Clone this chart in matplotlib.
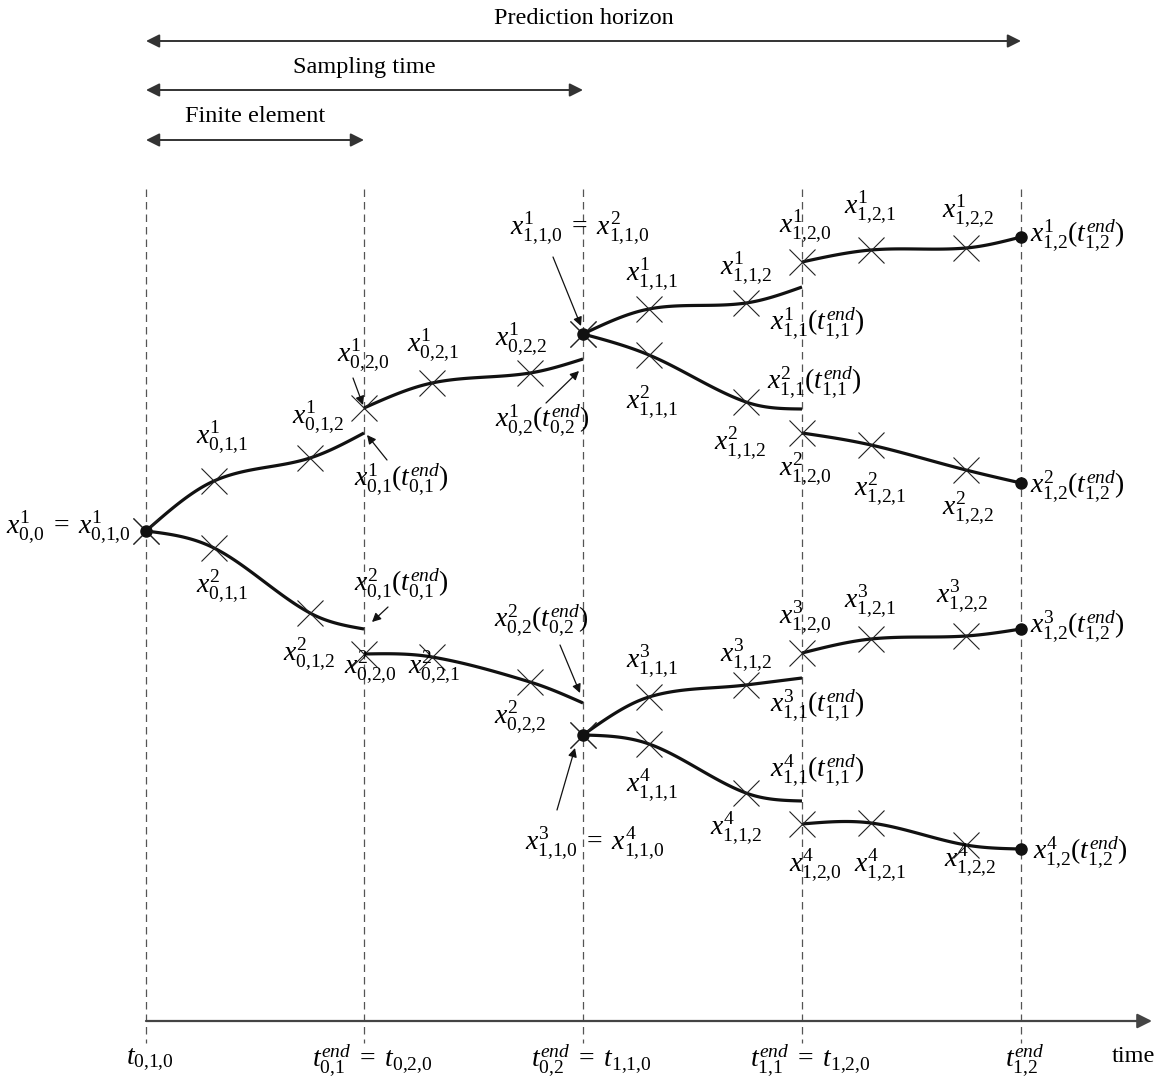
import numpy as np
import matplotlib
matplotlib.use("Agg")
import matplotlib.pyplot as plt

plt.rcParams["font.family"] = ["Liberation Serif", "DejaVu Serif"]
plt.rcParams["mathtext.fontset"] = "custom"
plt.rcParams["mathtext.rm"] = "Liberation Serif"
plt.rcParams["mathtext.it"] = "Liberation Serif:italic"
plt.rcParams["mathtext.bf"] = "Liberation Serif:bold"

# time grid: stage / finite element boundaries
t_bounds = [146, 364, 583, 802, 1021]
# collocation points inside each finite element (start, c1, c2, end)
t_elem = [
    [146, 214, 310, 364],
    [364, 432, 530, 583],
    [583, 649, 746, 802],
    [802, 871, 966, 1021],
]

# state trajectories, one list per scenario and finite element
x_s0_e1 = {1: [531, 481, 458, 433], 2: [531, 548, 613, 629]}
x_s0_e2 = {1: [408, 383, 373, 359], 2: [654, 657, 682, 703]}
x_s1_e1 = {1: [334, 309, 303, 287], 2: [334, 355, 402, 409],
           3: [735, 697, 685, 678], 4: [735, 744, 793, 801]}
x_s1_e2 = {1: [262, 250, 248, 237], 2: [433, 445, 470, 483],
           3: [653, 639, 636, 629], 4: [824, 823, 845, 849]}


def sub(*idx):
    return "{,}".join(str(i) for i in idx)


def node(j, *idx):
    return r"x^{%d}_{%s}" % (j, sub(*idx))


def endval(j, a, b):
    return r"x^{%d}_{%s}(t^{end}_{%s})" % (j, sub(a, b), sub(a, b))


EQ = r"\;=\;"

# node labels: (text, x, y, ha)
labels = [
    ("$" + node(1, 0, 0) + EQ + node(1, 0, 1, 0) + "$", 131, 527, "right"),
    ("$" + node(1, 0, 1, 1) + "$", 222, 437, "center"),
    ("$" + node(1, 0, 1, 2) + "$", 318, 417, "center"),
    ("$" + endval(1, 0, 1) + "$", 401, 479, "center"),
    ("$" + node(1, 0, 2, 0) + "$", 363, 355, "center"),
    ("$" + node(1, 0, 2, 1) + "$", 433, 345, "center"),
    ("$" + node(1, 0, 2, 2) + "$", 521, 339, "center"),
    ("$" + endval(1, 0, 2) + "$", 542, 420, "center"),
    ("$" + node(1, 1, 1, 0) + EQ + node(2, 1, 1, 0) + "$", 580, 228, "center"),
    ("$" + node(1, 1, 1, 1) + "$", 652, 274, "center"),
    ("$" + node(1, 1, 1, 2) + "$", 746, 268, "center"),
    ("$" + node(1, 1, 2, 0) + "$", 805, 226, "center"),
    ("$" + endval(1, 1, 1) + "$", 817, 323, "center"),
    ("$" + endval(2, 1, 1) + "$", 814, 382, "center"),
    ("$" + node(2, 1, 1, 1) + "$", 652, 402, "center"),
    ("$" + node(2, 1, 1, 2) + "$", 740, 443, "center"),
    ("$" + node(2, 1, 2, 0) + "$", 805, 469, "center"),
    ("$" + node(1, 1, 2, 1) + "$", 870, 207, "center"),
    ("$" + node(1, 1, 2, 2) + "$", 968, 211, "center"),
    ("$" + endval(1, 1, 2) + "$", 1030, 235, "left"),
    ("$" + endval(2, 1, 2) + "$", 1030, 486, "left"),
    ("$" + node(2, 1, 2, 1) + "$", 880, 489, "center"),
    ("$" + node(2, 1, 2, 2) + "$", 968, 508, "center"),
    ("$" + node(2, 0, 1, 1) + "$", 222, 586, "center"),
    ("$" + endval(2, 0, 1) + "$", 401, 584, "center"),
    ("$" + node(2, 0, 1, 2) + "$", 309, 654, "center"),
    ("$" + node(2, 0, 2, 0) + "$", 370, 667, "center"),
    ("$" + node(2, 0, 2, 1) + "$", 434, 667, "center"),
    ("$" + endval(2, 0, 2) + "$", 541, 620, "center"),
    ("$" + node(2, 0, 2, 2) + "$", 520, 717, "center"),
    ("$" + node(3, 1, 1, 0) + EQ + node(4, 1, 1, 0) + "$", 595, 843, "center"),
    ("$" + node(3, 1, 1, 1) + "$", 652, 661, "center"),
    ("$" + node(3, 1, 1, 2) + "$", 746, 655, "center"),
    ("$" + node(3, 1, 2, 0) + "$", 805, 617, "center"),
    ("$" + endval(3, 1, 1) + "$", 817, 705, "center"),
    ("$" + endval(4, 1, 1) + "$", 817, 770, "center"),
    ("$" + node(4, 1, 1, 1) + "$", 652, 785, "center"),
    ("$" + node(4, 1, 1, 2) + "$", 736, 828, "center"),
    ("$" + node(4, 1, 2, 0) + "$", 815, 865, "center"),
    ("$" + node(3, 1, 2, 1) + "$", 870, 601, "center"),
    ("$" + node(3, 1, 2, 2) + "$", 962, 596, "center"),
    ("$" + endval(3, 1, 2) + "$", 1030, 626, "left"),
    ("$" + endval(4, 1, 2) + "$", 1033, 852, "left"),
    ("$" + node(4, 1, 2, 1) + "$", 880, 865, "center"),
    ("$" + node(4, 1, 2, 2) + "$", 970, 860, "center"),
]

# pointer arrows (tail -> head)
pointers = [
    ((353, 378), (363, 405)),
    ((387, 460), (367, 435)),
    ((388, 607), (372, 622)),
    ((546, 403), (579, 371)),
    ((553, 257), (581, 326)),
    ((560, 645), (580, 693)),
    ((557, 810), (575, 748)),
]

time_labels = [
    r"$t_{0{,}1{,}0}$",
    r"$t^{end}_{0{,}1}\;=\;t_{0{,}2{,}0}$",
    r"$t^{end}_{0{,}2}\;=\;t_{1{,}1{,}0}$",
    r"$t^{end}_{1{,}1}\;=\;t_{1{,}2{,}0}$",
    r"$t^{end}_{1{,}2}$",
]
time_label_shift = [4, 8, 8, 8, 4]

# horizon arrows: (text, start, end, y)
spans = [
    ("Prediction horizon", 146, 1021, 41),
    ("Sampling time", 146, 583, 90),
    ("Finite element", 146, 364, 140),
]

fig = plt.figure(figsize=(11.61, 10.84), dpi=100)
ax = fig.add_axes([0, 0, 1, 1])
ax.set_xlim(0, 1161)
ax.set_ylim(1084, 0)
ax.axis("off")

# dashed stage boundaries
for tb in t_bounds:
    ax.plot([tb, tb], [189, 1043], color="#555555", lw=0.9,
            dashes=(6, 4), zorder=1)

# time axis
ax.annotate("", xy=(1152, 1021), xytext=(146, 1021),
            arrowprops=dict(arrowstyle="-|>", color="#444444", lw=1.6,
                            mutation_scale=22, shrinkA=0, shrinkB=0))

# span arrows with their captions
for text, a, b, yy in spans:
    ax.annotate("", xy=(b, yy), xytext=(a, yy),
                arrowprops=dict(arrowstyle="<|-|>", color="#333333", lw=1.4,
                                mutation_scale=20, shrinkA=0, shrinkB=0))
    ax.text((a + b) / 2, yy - 23, text, ha="center", va="center", fontsize=17.5)


def hermite(ts, ys, n=40):
    # piecewise cubic Hermite, central-difference slopes inside,
    # quadratic end condition at both ends
    ts = np.asarray(ts, float)
    ys = np.asarray(ys, float)
    d = np.diff(ys) / np.diff(ts)
    m = np.empty_like(ys)
    m[1:-1] = (ys[2:] - ys[:-2]) / (ts[2:] - ts[:-2])
    m[0] = 1.5 * d[0] - 0.5 * m[1]
    m[-1] = 1.5 * d[-1] - 0.5 * m[-2]
    xx, yy = [], []
    for i in range(len(ts) - 1):
        h = ts[i + 1] - ts[i]
        s = np.linspace(0, 1, n)
        h00 = 2 * s**3 - 3 * s**2 + 1
        h10 = s**3 - 2 * s**2 + s
        h01 = -2 * s**3 + 3 * s**2
        h11 = s**3 - s**2
        xx.append(ts[i] + s * h)
        yy.append(h00 * ys[i] + h10 * h * m[i] + h01 * ys[i + 1] + h11 * h * m[i + 1])
    return np.concatenate(xx), np.concatenate(yy)


def draw_element(ts, ys):
    tt, yy = hermite(ts, ys)
    ax.plot(tt, yy, color="#111111", lw=2.3, solid_capstyle="butt", zorder=3)
    ax.plot(ts[:3], ys[:3], linestyle="none", marker="x", markersize=19,
            markeredgewidth=0.8, color="#222222", zorder=4)


for k, ys in x_s0_e1.items():
    draw_element(t_elem[0], ys)
for k, ys in x_s0_e2.items():
    draw_element(t_elem[1], ys)
for k, ys in x_s1_e1.items():
    draw_element(t_elem[2], ys)
for k, ys in x_s1_e2.items():
    draw_element(t_elem[3], ys)

# branching nodes and final states
ax.plot(t_bounds[0], x_s0_e1[1][0], "o", color="#111111", markersize=8, zorder=5)
for k in (1, 3):
    ax.plot(t_bounds[2], x_s1_e1[k][0], "o", color="#111111", markersize=8, zorder=5)
for k, ys in x_s1_e2.items():
    ax.plot(t_bounds[4], ys[-1], "o", color="#111111", markersize=8, zorder=5)

for text, lx, ly, ha in labels:
    ax.text(lx, ly, text, ha=ha, va="center", fontsize=20, zorder=6)

for (x0, y0), (x1, y1) in pointers:
    ax.annotate("", xy=(x1, y1), xytext=(x0, y0),
                arrowprops=dict(arrowstyle="-|>", color="#111111", lw=0.9,
                                mutation_scale=13, shrinkA=0, shrinkB=0))

for tb, lab, sh in zip(t_bounds, time_labels, time_label_shift):
    ax.text(tb + sh, 1060, lab, ha="center", va="center", fontsize=20)
ax.text(1133, 1056, "time", ha="center", va="center", fontsize=17.5)

fig.savefig("out.png", dpi=100)
